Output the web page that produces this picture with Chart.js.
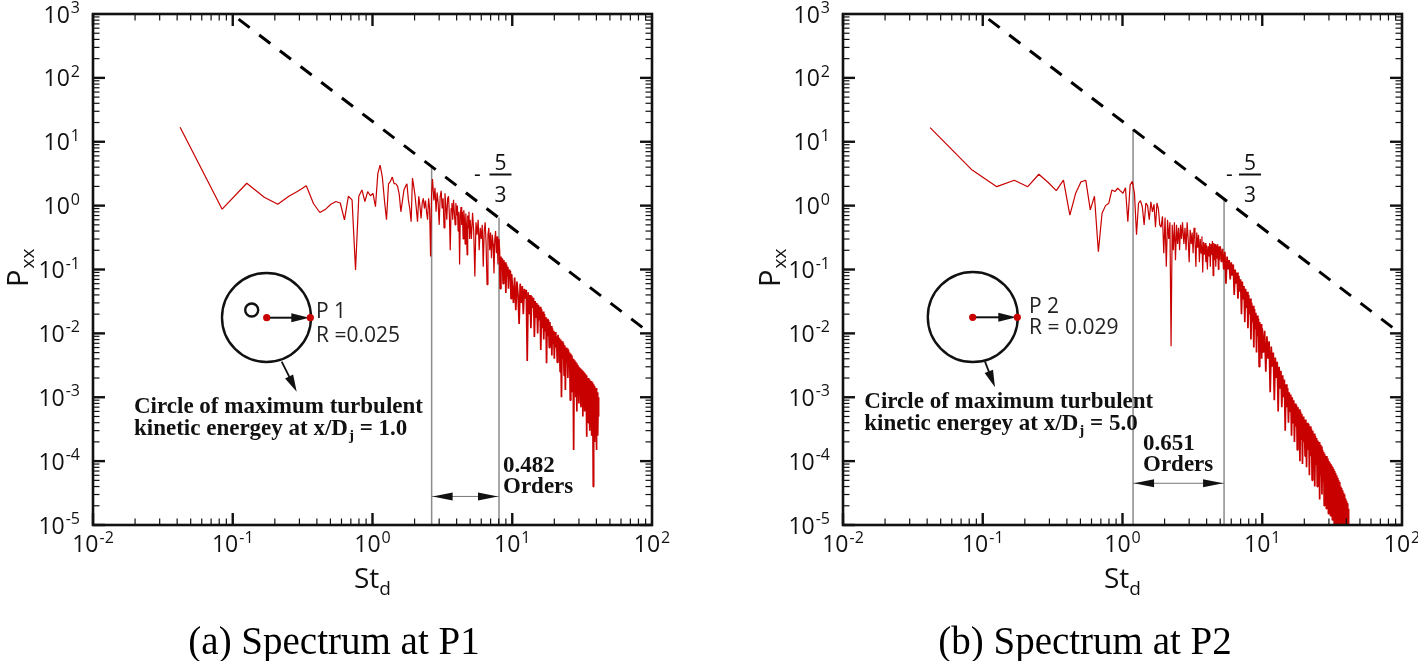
<!DOCTYPE html>
<html>
<head>
<meta charset="utf-8">
<title>Spectrum at P1 and P2</title>
<script src="https://cdn.jsdelivr.net/npm/chart.js@4.4.1/dist/chart.umd.min.js"></script>
<style>
html,body{margin:0;padding:0;background:#ffffff;overflow:hidden;}
#wrap{position:relative;width:1418px;height:661px;background:#fff;}
canvas{position:absolute;top:0;}
</style>
</head>
<body>
<div id="wrap">
<canvas id="chartA" width="709" height="661" style="left:0px"></canvas>
<canvas id="chartB" width="709" height="661" style="left:709px"></canvas>
</div>
<script>
// ---------------- DATA ----------------
// Strouhal number bins St_d shared by both spectra
const stGrid = [0.042,0.084,0.126,0.168,0.21,0.252,0.294,0.336,0.378,0.42,
0.462,0.504,0.546,0.588,0.63,0.672,0.714,0.756,0.798,0.84,
0.882,0.924,0.966,1.008,1.05,1.092,1.134,1.176,1.218,1.26,
1.302,1.344,1.386,1.428,1.47,1.512,1.554,1.596,1.638,1.68,
1.722,1.764,1.806,1.848,1.89,1.932,1.974,2.016,2.058,2.1,
2.142,2.184,2.226,2.268,2.31,2.352,2.394,2.436,2.478,2.52,
2.562,2.604,2.646,2.688,
2.75,2.8,2.85,2.9,2.95,3,3.05,3.1,3.15,3.2,
3.25,3.3,3.35,3.4,3.45,3.5,3.55,3.6,3.65,3.7,
3.75,3.8,3.85,3.9,3.95,4,4.05,4.1,4.15,4.2,
4.25,4.3,4.35,4.4,4.45,4.5,4.55,4.6,4.65,4.7,
4.75,4.8,4.85,4.9,4.95,5,
5.1,5.2,5.3,5.4,5.5,5.6,5.7,5.8,5.9,6,
6.1,6.2,6.3,6.4,6.5,6.6,6.7,6.8,6.9,7,
7.1,7.2,7.3,7.4,7.5,7.6,7.7,7.8,7.9,8,
8.1,8.2,8.3,8.4,8.5,8.6,8.7,8.8,8.9,9,
9.1,9.2,9.3,9.4,9.5,9.6,9.7,9.8,9.9,10,
10.2,10.4,10.6,10.8,11,11.2,11.4,11.6,11.8,12,
12.2,12.4,12.6,12.8,13,13.2,13.4,13.6,13.8,14,
14.2,14.4,14.6,14.8,15,15.2,15.4,15.6,15.8,16,
16.2,16.4,16.6,16.8,17,17.2,17.4,17.6,17.8,18,
18.2,18.4,18.6,18.8,19,19.2,19.4,19.6,19.8,20,
20.25,20.5,20.75,21,21.25,21.5,21.75,22,22.25,22.5,
22.75,23,23.25,23.5,23.75,24,24.25,24.5,24.75,25,
25.25,25.5,25.75,26,26.25,26.5,26.75,27,27.25,27.5,
27.75,28,28.25,28.5,28.75,29,29.25,29.5,29.75,30,
30.25,30.5,30.75,31,31.25,31.5,31.75,32,32.25,32.5,
32.75,33,33.25,33.5,33.75,34,34.25,34.5,34.75,35,
35.25,35.5,35.75,36,36.25,36.5,36.75,37,37.25,37.5,
37.75,38,38.25,38.5,38.75,39,39.25,39.5,39.75,40,
40.25,40.5,40.75,41,41.25,41.5];

// P_xx at P1, panel (a)
const pxxA = [16.9,0.88,2.24,1.35,1.05,1.4,1.7,2.05,1.08,0.78,
0.88,1.05,1.16,1.1,0.6,1.4,1.23,0.098,1.4,1.76,
1.16,1.66,1.43,1.55,0.96,3.2,4.3,2.8,1.2,0.6,
2.2,2.4,2.8,2.2,2.2,2.0,1.5,0.8,1.2,1.76,
2.0,2.2,1.23,0.9,0.56,2.7,2.0,1.43,0.9,0.56,
1.4,1.0,0.63,1.1,1.3,0.9,1.2,0.8,0.6,1.3,
0.9,0.16,1.5,2.6,
1.2,1.9,0.8,1.6,1.1,0.5,1.4,1.7,0.9,1.3,
0.45,1.56,1.0,0.6,1.3,1.4,0.7,0.2,0.9,1.1,
0.6,1.23,0.8,0.5,1.1,0.7,1.0,0.4,0.8,0.12,
0.7,0.95,0.5,0.8,0.3,0.85,0.6,0.25,0.75,0.5,
0.17,0.7,0.45,0.8,0.3,0.6,
0.3,0.77,0.4,0.078,0.55,0.35,0.6,0.2,0.45,0.3,
0.5,0.11,0.4,0.55,0.25,0.058,0.35,0.45,0.2,0.38,
0.15,0.35,0.25,0.087,0.3,0.4,0.18,0.33,0.12,0.3,
0.2,0.05,0.16,0.1,0.15,0.06,0.14,0.09,0.13,0.043,
0.12,0.08,0.11,0.05,0.1,0.07,0.095,0.035,0.085,0.06,
0.03,0.075,0.023,0.065,0.04,0.014,0.06,0.03,0.055,0.02,
0.05,0.035,0.048,0.0037,0.044,0.02,0.04,0.012,0.038,0.025,
0.036,0.0088,0.032,0.018,0.03,0.01,0.028,0.016,0.026,0.0055,
0.024,0.012,0.022,0.008,0.02,0.011,0.018,0.0034,0.017,0.009,
0.016,0.006,0.015,0.008,0.013,0.0045,0.012,0.007,0.011,0.004,
0.0105,0.006,0.009,0.0035,0.0095,0.005,0.0085,0.0025,0.008,0.001,
0.0075,0.004,0.007,0.0022,0.0065,0.0013,0.006,0.0035,0.0058,0.002,
0.0055,0.003,0.005,0.0009,0.0048,0.0025,0.0045,0.0012,0.004,0.00015,
0.0038,0.0018,0.0036,0.001,0.0034,0.0006,0.0032,0.0016,0.003,0.0008,
0.0029,0.0014,0.0028,0.0007,0.0027,0.0012,0.0026,0.0005,0.0025,0.0011,
0.0024,0.0006,0.0023,0.001,0.0022,0.00024,0.0021,0.0009,0.002,0.0004,
0.002,0.0008,0.0019,0.0003,0.0018,0.0007,0.0018,0.00025,0.0017,0.0006,
0.0016,0.00004,0.0016,0.0005,0.0015,0.0002,0.0014,0.0004,0.0014,0.00015,
0.0013,0.0003,0.0012,0.00025,0.001,0.0005];

// P_xx at P2, panel (b)
const pxxB = [16.6,3.6,1.98,2.5,1.98,3.1,2.3,1.72,2.5,0.71,
1.56,2.35,2.5,0.86,1.4,0.19,0.76,1.0,1.09,1.76,
1.66,1.87,1.7,1.56,1.9,0.56,2.1,2.4,1.56,0.35,
1.09,1.2,0.96,0.5,1.1,1.0,0.6,1.15,0.8,1.05,
0.46,1.1,0.9,0.5,0.46,0.68,0.18,0.65,0.11,0.6,
0.3,0.55,0.0063,0.5,0.2,0.55,0.14,0.5,0.25,0.45,
0.2,0.5,0.3,0.55,
0.25,0.45,0.2,0.55,0.3,0.13,0.42,0.25,0.38,0.18,
0.45,0.3,0.11,0.38,0.22,0.35,0.13,0.3,0.18,0.33,
0.09,0.27,0.17,0.26,0.13,0.24,0.1,0.23,0.16,0.26,
0.11,0.25,0.17,0.28,0.08,0.26,0.14,0.25,0.11,0.24,
0.15,0.25,0.1,0.23,0.14,0.23,
0.13,0.21,0.1,0.19,0.06,0.16,0.1,0.14,0.07,0.13,
0.08,0.12,0.04,0.1,0.06,0.09,0.035,0.08,0.045,0.07,
0.02,0.065,0.035,0.055,0.015,0.05,0.025,0.045,0.012,0.04,
0.02,0.035,0.008,0.03,0.015,0.027,0.006,0.024,0.012,0.021,
0.005,0.019,0.009,0.017,0.003,0.015,0.007,0.014,0.004,0.012,
0.005,0.011,0.0025,0.009,0.004,0.0075,0.0012,0.0062,0.003,0.005,
0.0009,0.0042,0.002,0.0036,0.0006,0.003,0.0014,0.0026,0.0007,0.0022,
0.001,0.0019,0.0003,0.0016,0.0007,0.0014,0.0004,0.0012,0.0006,0.0011,
0.00025,0.001,0.0004,0.0009,0.0002,0.0008,0.00035,0.00075,0.00015,0.0007,
0.0003,0.00065,0.0001,0.0006,0.00022,0.00055,0.00009,0.0005,0.0002,0.00045,
0.00012,0.00045,0.00008,0.0004,0.00015,0.00038,0.00006,0.00035,0.00012,0.00032,
0.00005,0.0003,0.0001,0.00027,0.00004,0.00025,0.00009,0.00023,0.00004,0.00021,
0.00007,0.0002,0.000025,0.00018,0.00006,0.00017,0.00003,0.00015,0.00005,0.00014,
0.00002,0.00013,0.00004,0.00012,0.000018,0.00012,0.000035,0.00011,0.000015,0.0001,
0.00003,0.000095,0.000014,0.00009,0.000025,0.000085,0.000012,0.00008,0.000022,0.000075,
0.00001,0.00007,0.00002,0.000065,0.000009,0.00006,0.000018,0.000055,0.000008,0.00005,
0.000015,0.000047,0.000007,0.000045,0.000013,0.00004,0.000006,0.000038,0.000012,0.000035,
0.000005,0.000032,0.00001,0.00003,0.000005,0.000028,0.000009,0.000026,0.000004,0.000024,
0.000008,0.000022,0.000004,0.00002,0.000006,0.000018];

// -5/3 reference slope line (same in both panels)
const slopeSt = [0.11, 87];
const slopePxx = [830, 0.012];

// vertical marker lines (St) and where they meet the slope line (Pxx)
const bandStA = [2.65, 8.04];   // 0.482 orders
const bandTopA = [4.1, 0.65];
const bandStB = [1.19, 5.33];   // 0.651 orders
const bandTopB = [15.7, 1.29];
const arrowPxxA = 2.8e-5;
const arrowPxxB = 4.5e-5;

// axis tick exponents (labels 10^e)
const xExp = [-2, -1, 0, 1, 2];
const yExp = [-5, -4, -3, -2, -1, 0, 1, 2, 3];

// ---------------- DRAWING ----------------
const SANS = '"Open Sans", "DejaVu Sans", Arial, sans-serif';
const SERIF = '"Liberation Serif", "Times New Roman", serif';
const RED = '#c80000';
const INK = '#111111';

function seg(ctx, x1, y1, x2, y2) { ctx.beginPath(); ctx.moveTo(x1, y1); ctx.lineTo(x2, y2); ctx.stroke(); }
function head(ctx, x1, y1, x2, y2, len, hw) {
  const a = Math.atan2(y2 - y1, x2 - x1), c = Math.cos(a), s = Math.sin(a);
  ctx.beginPath();
  ctx.moveTo(x2, y2);
  ctx.lineTo(x2 - len * c + hw * s, y2 - len * s - hw * c);
  ctx.lineTo(x2 - len * c - hw * s, y2 - len * s + hw * c);
  ctx.closePath(); ctx.fill();
}
function powLabel(ctx, e, x, y, mode) {
  ctx.font = '23px ' + SANS;
  const wb = ctx.measureText('10').width;
  ctx.font = '16px ' + SANS;
  const es = String(e);
  const we = ctx.measureText(es).width;
  let x0, base;
  if (mode === 'right') { x0 = x - wb - we - 1; base = y + 8.5; }
  else { x0 = x - (wb + we + 1) / 2; base = y + 17; }
  ctx.fillStyle = INK; ctx.textAlign = 'left'; ctx.textBaseline = 'alphabetic';
  ctx.font = '23px ' + SANS; ctx.fillText('10', x0, base);
  ctx.font = '16px ' + SANS; ctx.fillText(es, x0 + wb + 1, base - 9.5);
}

function makePlugin(ann) {
  return {
    id: 'frameAndNotes',
    afterDatasetsDraw(chart) {
      const ctx = chart.ctx, a = chart.chartArea;
      const sx = chart.scales.x, sy = chart.scales.y;
      ctx.save();
      ctx.strokeStyle = INK; ctx.fillStyle = INK; ctx.lineCap = 'butt';
      // ticks on all four sides, pointing inward
      for (let i = 0; i < xExp.length - 1; i++) {
        for (let m = 1; m <= 9; m++) {
          const px = sx.getPixelForValue(m * Math.pow(10, xExp[i]));
          const major = m === 1, L = major ? 12 : 6.5;
          ctx.lineWidth = major ? 2.4 : 1.2;
          seg(ctx, px, a.bottom, px, a.bottom - L);
          seg(ctx, px, a.top, px, a.top + L);
        }
      }
      for (let i = 0; i < yExp.length - 1; i++) {
        for (let m = 1; m <= 9; m++) {
          const py = sy.getPixelForValue(m * Math.pow(10, yExp[i]));
          const major = m === 1, L = major ? 12 : 6.5;
          ctx.lineWidth = major ? 2.4 : 1.2;
          seg(ctx, a.left, py, a.left + L, py);
          seg(ctx, a.right, py, a.right - L, py);
        }
      }
      ctx.lineWidth = 2.6;
      ctx.strokeRect(a.left, a.top, a.right - a.left, a.bottom - a.top);
      // tick labels
      xExp.forEach(e => powLabel(ctx, e, sx.getPixelForValue(Math.pow(10, e)), a.bottom + 10, 'center'));
      yExp.forEach(e => powLabel(ctx, e, a.left - 13, sy.getPixelForValue(Math.pow(10, e)), 'right'));
      // axis titles
      ctx.fillStyle = INK; ctx.textAlign = 'left'; ctx.textBaseline = 'alphabetic';
      ctx.font = '28px ' + SANS;
      const wSt = ctx.measureText('St').width;
      ctx.font = '19px ' + SANS;
      const wd = ctx.measureText('d').width;
      const xc = (a.left + a.right) / 2, x0 = xc - (wSt + wd) / 2;
      ctx.font = '28px ' + SANS; ctx.fillText('St', x0, 588);
      ctx.font = '19px ' + SANS; ctx.fillText('d', x0 + wSt, 595);
      ctx.save();
      ctx.translate(ann.pTitle[0], ann.pTitle[1]);
      ctx.rotate(-Math.PI / 2);
      ctx.font = '29px ' + SANS; ctx.fillText('P', 0, 0);
      const wP = ctx.measureText('P').width;
      ctx.font = '19px ' + SANS; ctx.fillText('xx', wP + 1, 6);
      ctx.restore();

      // double arrow between the two marker lines
      const ax1 = sx.getPixelForValue(ann.band[0]), ax2 = sx.getPixelForValue(ann.band[1]);
      const ay = sy.getPixelForValue(ann.arrowY);
      ctx.strokeStyle = '#777'; ctx.lineWidth = 1;
      seg(ctx, ax1, ay, ax2, ay);
      ctx.fillStyle = INK;
      head(ctx, ax2, ay, ax1 + 1, ay, 20, 4);
      head(ctx, ax1, ay, ax2 - 1, ay, 20, 4);

      // orders label
      ctx.font = 'bold 23px ' + SERIF; ctx.fillStyle = INK;
      ctx.fillText(ann.orders, ann.ordersPos[0], ann.ordersPos[1]);
      ctx.fillText('Orders', ann.ordersPos[0], ann.ordersPos[1] + 21);

      // -5/3 slope label
      ctx.font = '21px ' + SANS; ctx.textAlign = 'center';
      ctx.fillText('-', ann.frac[0], 181);
      ctx.fillText('5', ann.frac[1], 170);
      ctx.fillText('3', ann.frac[1], 202);
      ctx.strokeStyle = INK; ctx.lineWidth = 2;
      seg(ctx, ann.frac[1] - 11, 174.5, ann.frac[1] + 11, 174.5);
      ctx.textAlign = 'left';

      // inset schematic: circle of maximum TKE
      const c = ann.circle;
      ctx.strokeStyle = INK; ctx.lineWidth = 2.4;
      ctx.beginPath(); ctx.arc(c[0], c[1], c[2], 0, Math.PI * 2); ctx.stroke();
      if (ann.small) { ctx.beginPath(); ctx.arc(ann.small[0], ann.small[1], ann.small[2], 0, Math.PI * 2); ctx.stroke(); }
      const d0 = ann.dot0, d1 = ann.dot1;
      ctx.lineWidth = 2;
      seg(ctx, d0[0], d0[1], d1[0] - 14, d1[1]);
      head(ctx, d0[0], d0[1], d1[0] - 1, d1[1], 18, 4.5);
      ctx.fillStyle = RED;
      ctx.beginPath(); ctx.arc(d0[0], d0[1], 3.6, 0, Math.PI * 2); ctx.fill();
      ctx.beginPath(); ctx.arc(d1[0], d1[1], 3.6, 0, Math.PI * 2); ctx.fill();
      ctx.fillStyle = '#222';
      ctx.font = '21px ' + SANS;
      ctx.fillText(ann.pLabel[0], ann.pLabel[1], ann.pLabel[2]);
      ctx.fillText(ann.rLabel[0], ann.rLabel[1], ann.rLabel[2]);
      // pointer arrow
      const p = ann.pointer;
      ctx.strokeStyle = INK; ctx.fillStyle = INK; ctx.lineWidth = 1.8;
      seg(ctx, p[0], p[1], p[2] - (p[2] - p[0]) * 0.4, p[3] - (p[3] - p[1]) * 0.4);
      head(ctx, p[0], p[1], p[2], p[3], 17, 4.5);
      // description
      ctx.font = 'bold 23px ' + SERIF;
      ctx.fillText('Circle of maximum turbulent', ann.desc[0], ann.desc[1]);
      const l2 = 'kinetic energey at x/D';
      ctx.fillText(l2, ann.desc[0], ann.desc[2]);
      const w2 = ctx.measureText(l2).width;
      ctx.font = 'bold 15px ' + SERIF;
      ctx.fillText('j', ann.desc[0] + w2 + 1, ann.desc[2] + 5);
      const wj = ctx.measureText('j').width;
      ctx.font = 'bold 23px ' + SERIF;
      ctx.fillText(' = ' + ann.xd, ann.desc[0] + w2 + 1 + wj, ann.desc[2]);

      // caption
      ctx.font = '39px ' + SERIF; ctx.textAlign = 'center'; ctx.fillStyle = '#000';
      ctx.fillText(ann.caption, ann.captionX, 654);
      ctx.restore();
    }
  };
}

function buildChart(id, pxx, bandSt, bandTop, ann) {
  const spectrum = stGrid.map((s, i) => ({ x: s, y: pxx[i] }));
  const slope = slopeSt.map((s, i) => ({ x: s, y: slopePxx[i] }));
  const v1 = [{ x: bandSt[0], y: bandTop[0] }, { x: bandSt[0], y: 1e-5 }];
  const v2 = [{ x: bandSt[1], y: bandTop[1] }, { x: bandSt[1], y: 1e-5 }];
  const hidden = { ticks: { display: false }, grid: { display: false, drawTicks: false }, border: { display: false } };
  return new Chart(document.getElementById(id), {
    type: 'line',
    data: {
      datasets: [
        { label: 'Pxx', data: spectrum, borderColor: RED, borderWidth: 1.2, pointRadius: 0, tension: 0, borderJoinStyle: 'bevel', order: 0,
          segment: { borderWidth: (c) => (c.p0.parsed.x >= ann.denseFrom ? 1.7 : 1.2) } },
        { label: '-5/3 slope', data: slope, borderColor: '#000', borderWidth: 3, borderDash: [14, 12], pointRadius: 0, order: 1 },
        { label: 'band start', data: v1, borderColor: '#8c8c8c', borderWidth: 1.5, pointRadius: 0, order: 2 },
        { label: 'band end', data: v2, borderColor: '#8c8c8c', borderWidth: 1.5, pointRadius: 0, order: 2 }
      ]
    },
    options: {
      responsive: false, maintainAspectRatio: false, animation: false, devicePixelRatio: 1, events: [],
      layout: { padding: ann.pad },
      plugins: { legend: { display: false }, tooltip: { enabled: false }, title: { display: false } },
      scales: {
        x: Object.assign({ type: 'logarithmic', min: 0.01, max: 100 }, hidden),
        y: Object.assign({ type: 'logarithmic', min: 1e-5, max: 1000 }, hidden)
      }
    },
    plugins: [makePlugin(ann)]
  });
}

buildChart('chartA', pxxA, bandStA, bandTopA, {
  pad: { left: 93, top: 14, right: 57, bottom: 136 },
  denseFrom: 8,
  caption: '(a) Spectrum at P1', captionX: 334,
  circle: [266.5, 317.5, 44.5], small: [251.7, 310, 6.5],
  dot0: [266.7, 317.7], dot1: [310.3, 317.7],
  pLabel: ['P 1', 316, 318], rLabel: ['R =0.025', 316, 342],
  pointer: [281.7, 361.7, 296.7, 391.7],
  desc: [134, 413, 435], xd: '1.0',
  orders: '0.482', ordersPos: [503, 472],
  band: bandStA, arrowY: arrowPxxA,
  frac: [477.5, 500.5],
  pTitle: [28, 287]
});
buildChart('chartB', pxxB, bandStB, bandTopB, {
  pad: { left: 134, top: 14, right: 16, bottom: 136 },
  denseFrom: 5,
  caption: '(b) Spectrum at P2', captionX: 376,
  circle: [263.8, 317, 45], small: null,
  dot0: [263.7, 317.3], dot1: [308.3, 317.3],
  pLabel: ['P 2', 320, 313], rLabel: ['R = 0.029', 320, 334],
  pointer: [276, 361.7, 286, 387.3],
  desc: [155.3, 408, 430], xd: '5.0',
  orders: '0.651', ordersPos: [434, 450],
  band: bandStB, arrowY: arrowPxxB,
  frac: [520.5, 541],
  pTitle: [71, 287]
});
</script>
</body>
</html>
